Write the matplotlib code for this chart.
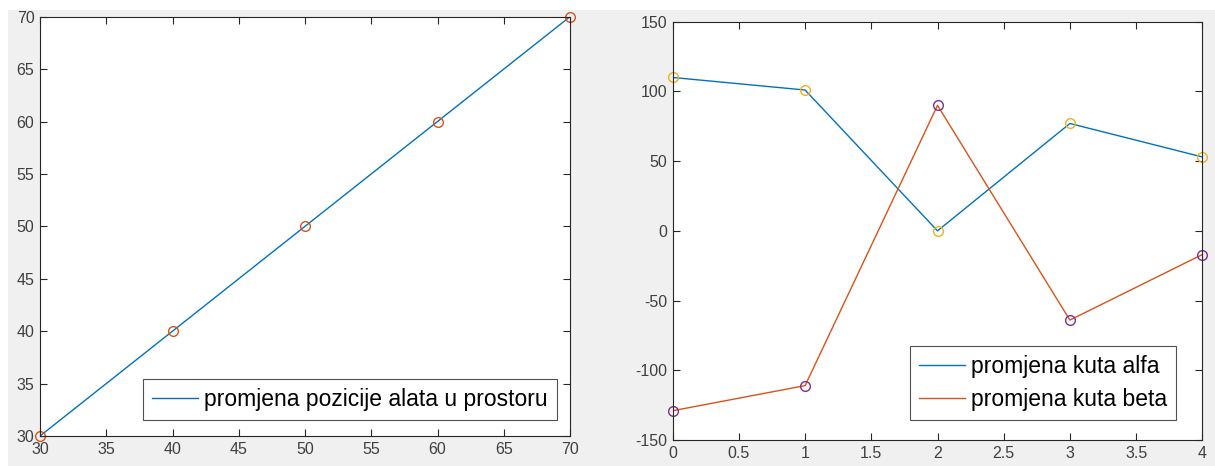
import matplotlib
matplotlib.use('Agg')
import matplotlib.pyplot as plt
from matplotlib.patches import Rectangle

# left plot data
pos_x = [30, 40, 50, 60, 70]
pos_y = [30, 40, 50, 60, 70]

# right plot data
korak = [0, 1, 2, 3, 4]
alfa = [110, 101, 0, 77, 53]
beta = [-129, -111, 90, -64, -17]

plt.rcParams['font.family'] = ['Liberation Sans', 'DejaVu Sans']
plt.rcParams['axes.unicode_minus'] = False

W, H = 1215, 466
fig = plt.figure(figsize=(W / 100, H / 100), dpi=100, facecolor='white')
# grey matlab-like background with white strip at top and left
fig.patches.append(Rectangle((8 / W, 0), 1, (H - 10) / H, transform=fig.transFigure,
                             facecolor='#f0f0f0', edgecolor='none', zorder=-10))

def ax_rect(x0, x1, ytop, ybot):
    return [x0 / W, (H - ybot) / H, (x1 - x0) / W, (ybot - ytop) / H]

ax1 = fig.add_axes(ax_rect(40, 570, 16.7, 436))
ax2 = fig.add_axes(ax_rect(672.7, 1202.3, 21.7, 440))

blue = '#0072BD'
orange = '#D95319'
yellow = '#EDB120'
purple = '#7E2F8E'

for ax in (ax1, ax2):
    ax.set_facecolor('white')
    for s in ax.spines.values():
        s.set_color('#262626')
        s.set_linewidth(0.8)
    ax.tick_params(direction='in', top=True, right=True, length=5, width=0.8,
                   colors='#262626', labelsize=11.5, pad=4)
    for lbl in ax.get_xticklabels() + ax.get_yticklabels():
        lbl.set_color('#404040')

leg_kw = dict(loc='lower right', fontsize=16.5, frameon=True, fancybox=False,
              edgecolor='#262626', handlelength=2.0, handletextpad=0.25,
              borderpad=0.4, borderaxespad=0, labelspacing=0.42)

# left
ax1.plot(pos_x, pos_y, color=blue, lw=1.0, label='promjena pozicije alata u prostoru')
ax1.plot(pos_x, pos_y, 'o', mfc='none', mec=orange, ms=7, mew=1.0, clip_on=False)
ax1.set_xlim(30, 70)
ax1.set_ylim(30, 70)
ax1.set_xticks(range(30, 71, 5))
ax1.set_yticks(range(30, 71, 5))
leg1 = ax1.legend(bbox_to_anchor=(0.975, 0.038), **leg_kw)
leg1.get_frame().set_linewidth(0.8)

# right
ax2.plot(korak, alfa, color=blue, lw=1.0, label='promjena kuta alfa')
ax2.plot(korak, beta, color=orange, lw=1.0, label='promjena kuta beta')
ax2.plot(korak, alfa, 'o', mfc='none', mec=yellow, ms=7, mew=1.0, clip_on=False)
ax2.plot(korak, beta, 'o', mfc='none', mec=purple, ms=7, mew=1.0, clip_on=False)
ax2.set_xlim(0, 4)
ax2.set_ylim(-150, 150)
ax2.set_xticks([0, 0.5, 1, 1.5, 2, 2.5, 3, 3.5, 4])
ax2.set_xticklabels(['0', '0.5', '1', '1.5', '2', '2.5', '3', '3.5', '4'])
ax2.set_yticks(range(-150, 151, 50))
leg2 = ax2.legend(bbox_to_anchor=(0.95, 0.048), **leg_kw)
leg2.get_frame().set_linewidth(0.8)

fig.savefig('out.png', dpi=100, facecolor=fig.get_facecolor())
